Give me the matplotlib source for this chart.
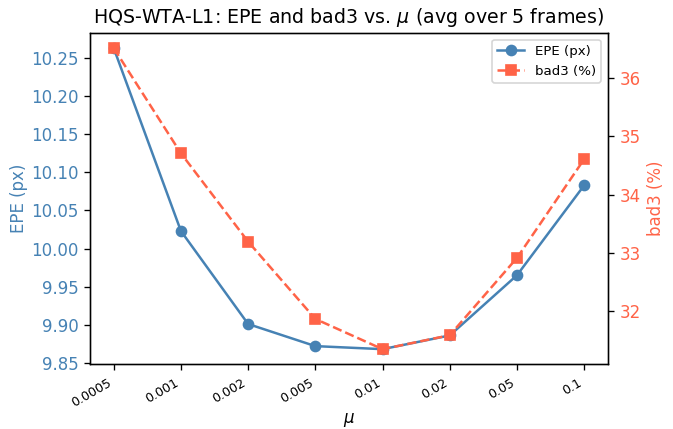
import matplotlib
matplotlib.use("Agg")
import matplotlib.pyplot as plt

# mu values (categorical x axis)
mu_labels = ["0.0005", "0.001", "0.002", "0.005", "0.01", "0.02", "0.05", "0.1"]
# avg EPE over 5 frames (px)
epe = [10.263, 10.023, 9.901, 9.872, 9.868, 9.886, 9.965, 10.083]
# avg bad3 over 5 frames (%)
bad3 = [36.52, 34.71, 33.19, 31.86, 31.34, 31.58, 32.91, 34.61]

c_epe = "#4682B4"
c_bad = "#FF6347"

fig, ax1 = plt.subplots(figsize=(673 / 120, 429 / 120), dpi=120)
fig.subplots_adjust(left=0.134, right=0.903, top=0.923, bottom=0.151)

x = list(range(len(mu_labels)))
l1, = ax1.plot(x, epe, "-o", color=c_epe, label="EPE (px)")
ax1.set_ylabel("EPE (px)", color=c_epe, labelpad=2)
ax1.tick_params(axis="y", labelcolor=c_epe)
ax1.set_xticks(x)
ax1.set_xticklabels(mu_labels, rotation=30, ha="right", fontsize=7.6)
ax1.set_xlabel(r"$\mu$", labelpad=1)

ax2 = ax1.twinx()
l2, = ax2.plot(x, bad3, "--s", color=c_bad, label="bad3 (%)")
ax2.set_ylabel("bad3 (%)", color=c_bad)
ax2.tick_params(axis="y", labelcolor=c_bad)

ax2.legend([l1, l2], [l1.get_label(), l2.get_label()], loc="upper right", fontsize=8)
ax1.set_title(r"HQS-WTA-L1: EPE and bad3 vs. $\mu$ (avg over 5 frames)", fontsize=11.4)

fig.savefig("out.png", dpi=120)
